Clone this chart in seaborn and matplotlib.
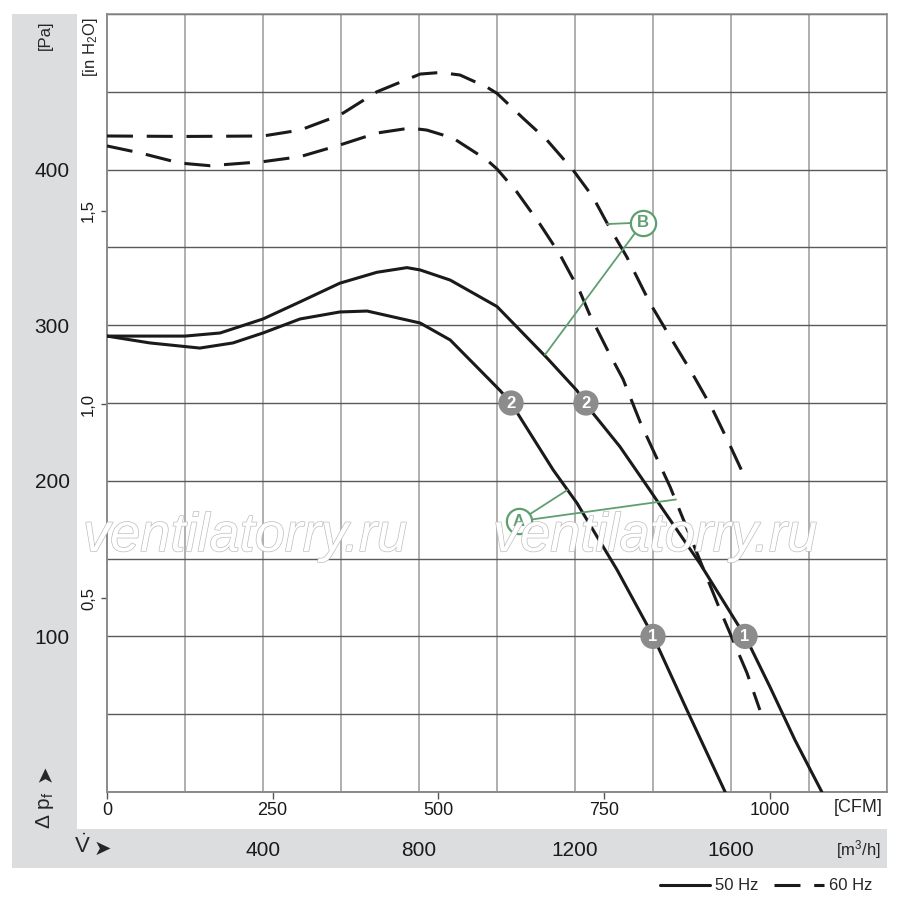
import numpy as np
import pandas as pd
import seaborn as sns
import matplotlib.pyplot as plt
from matplotlib.patches import Rectangle
import matplotlib.patheffects as pe

sns.set_theme(style="white")
plt.rcParams['font.family'] = ['Liberation Sans', 'DejaVu Sans']
plt.rcParams['mathtext.fontset'] = 'custom'
plt.rcParams['mathtext.rm'] = 'Liberation Sans'
plt.rcParams['mathtext.it'] = 'Liberation Sans'

# flow in m3/h, static pressure in Pa
q_50_hi = [0, 200, 290, 400, 495, 597, 692, 769, 803, 880, 1000, 1128, 1205, 1228,
           1315, 1392, 1423, 1520, 1615, 1636, 1700, 1764, 1833]
p_50_hi = [293, 293, 295, 304, 315, 327, 334, 337, 335.5, 329, 312, 279, 258, 249,
           222, 194, 182.5, 147, 108.6, 100.3, 67.5, 33.4, 0]

q_50_lo = [0, 110, 238, 323, 400, 495, 597, 667, 803, 880, 949, 1008, 1036, 1144,
           1205, 1231, 1308, 1400, 1487, 1585]
p_50_lo = [293, 288.6, 285.3, 288.6, 295, 304, 308.5, 309.1, 301.4, 290.5, 273, 258,
           250, 207, 185.7, 174.8, 142.7, 100.3, 52.7, 0]

q_60_hi = [0, 200, 400, 495, 597, 692, 803, 854, 905, 974, 1000, 1067, 1128, 1195,
           1246, 1282, 1333, 1392, 1444, 1500, 1551, 1597, 1641]
p_60_hi = [421.6, 421.3, 421.6, 425.4, 435, 450, 461.4, 462.4, 460.8, 453, 449, 433,
           419, 399.7, 382.4, 365.7, 343.8, 314.3, 292.4, 269.3, 246.8, 223, 199.2]

q_60_lo = [0, 85, 187, 264, 400, 495, 597, 692, 777, 820, 887, 974, 1000, 1051,
           1110, 1162, 1213, 1238, 1282, 1323, 1367, 1400, 1444, 1520, 1572, 1641, 1674]
p_60_lo = [415.2, 410.7, 404.2, 402.5, 405.1, 408.3, 415.8, 423.5, 426.7, 425.4, 420.3,
           406.2, 400.4, 385.6, 365, 345.1, 321.3, 306.6, 284.7, 265.4, 237.8, 219.8,
           196, 149.1, 117, 76.5, 52.7]

# operating points
pt_q = [1036, 1228, 1400, 1636]
pt_p = [250, 250, 100, 100]
pt_lab = ["2", "2", "1", "1"]

# curve annotations A / B
ann_lab = ["A", "B"]
ann_q = [1056, 1374]
ann_p = [174, 366]
ann_tq = [[1180, 1459], [1282, 1123]]
ann_tp = [[194, 188], [365, 281]]

pa_ticks = [100, 200, 300, 400]
inh2o_ticks = [0.5, 1.0, 1.5]
cfm_ticks = [0, 250, 500, 750, 1000]
m3h_ticks = [400, 800, 1200, 1600]

W, H = 900, 910
fig = plt.figure(figsize=(W / 100, H / 100), dpi=100)


def fx(x):
    return x / W


def fy(y):
    return 1 - y / H


# gray bands
band = "#dcdddf"
fig.add_artist(Rectangle((fx(12), fy(868)), fx(77) - fx(12), fy(14) - fy(868),
                         transform=fig.transFigure, color=band, zorder=0, lw=0))
fig.add_artist(Rectangle((fx(12), fy(868)), fx(887) - fx(12), fy(829) - fy(868),
                         transform=fig.transFigure, color=band, zorder=0, lw=0))

ax = fig.add_axes([fx(107), fy(792), fx(887) - fx(107), fy(14) - fy(792)])
ax.set_zorder(2)
ax.patch.set_facecolor("white")

green = "#5f9f6f"
dash = (0, (8.5, 4.5))
series = [
    (q_50_hi, p_50_hi, "-", "50 Hz"),
    (q_50_lo, p_50_lo, "-", None),
    (q_60_hi, p_60_hi, dash, "60 Hz"),
    (q_60_lo, p_60_lo, dash, None),
]
for q, p, ls, lab in series:
    df = pd.DataFrame({"q": q, "p": p})
    kw = {"label": lab} if lab else {}
    sns.lineplot(data=df, x="q", y="p", ax=ax, color="#1a1a1a", lw=2.2,
                 linestyle=ls, sort=False, zorder=3, **kw)

# watermark
for xc in [245, 655]:
    fig.text(fx(xc), fy(537), "ventilatorry.ru", ha="center", va="center",
             fontsize=39, style="italic", color="white", zorder=5,
             path_effects=[pe.withStroke(linewidth=1.0, foreground="#bdbdbd")])

# annotation lines + circles
for lab, q0, p0, tq, tp in zip(ann_lab, ann_q, ann_p, ann_tq, ann_tp):
    for q1, p1 in zip(tq, tp):
        ax.plot([q0, q1], [p0, p1], color=green, lw=1.3, zorder=6)
    ax.scatter([q0], [p0], s=330, facecolor="white", edgecolor=green, lw=1.6, zorder=7)
    ax.text(q0, p0, lab, color=green, ha="center", va="center", fontsize=12,
            fontweight="bold", zorder=8)

sns.scatterplot(x=pt_q, y=pt_p, ax=ax, s=330, color="#8c8c8c", edgecolor="none",
                zorder=7, legend=False)
for q, p, t in zip(pt_q, pt_p, pt_lab):
    ax.text(q, p, t, color="white", ha="center", va="center", fontsize=12,
            fontweight="bold", zorder=8)

ax.set_xlim(0, 2000)
ax.set_ylim(0, 500)
ax.set_xlabel("")
ax.set_ylabel("")

ax.set_xticks(np.arange(0, 2001, 200))
ax.set_xticklabels([str(v) if v in m3h_ticks else "" for v in range(0, 2001, 200)])
ax.set_yticks(np.arange(0, 501, 50))
ax.set_yticklabels([str(v) if v in pa_ticks else "" for v in range(0, 501, 50)])
ax.tick_params(axis="x", length=0, pad=35, labelsize=15, labelcolor="#1a1a1a")
ax.tick_params(axis="y", length=0, pad=27, labelsize=15, labelcolor="#1a1a1a")
ax.grid(True, axis="x", color="#9a9a9a", lw=1.1)
ax.grid(True, axis="y", color="#5a5a5a", lw=1.0)
for s in ax.spines.values():
    s.set_color("#8a8a8a")
    s.set_linewidth(1.1)

sec_x = ax.secondary_xaxis("bottom", functions=(lambda q: q / 1.699, lambda c: c * 1.699))
sec_x.set_xticks(cfm_ticks)
sec_x.set_xticklabels([str(v) for v in cfm_ticks])
sec_x.tick_params(length=5, width=1, color="#555555", pad=2, labelsize=13,
                  labelcolor="#1a1a1a")
sec_x.spines["bottom"].set_color("#8a8a8a")

sec_y = ax.secondary_yaxis("left", functions=(lambda p: p / 249.09, lambda h: h * 249.09))
sec_y.set_yticks(inh2o_ticks)
sec_y.set_yticklabels([f"{v:.1f}".replace(".", ",") for v in inh2o_ticks],
                      rotation=90, va="center")
sec_y.tick_params(length=4, width=1, color="#555555", pad=4, labelsize=12,
                  labelcolor="#1a1a1a")
sec_y.spines["left"].set_color("#8a8a8a")

# unit labels
fig.text(fx(45), fy(35), "[Pa]", rotation=90, ha="center", va="center", fontsize=12)
fig.text(fx(90), fy(47), "[in H$_2$O]", rotation=90, ha="center", va="center", fontsize=12)
fig.text(fx(858), fy(808), "[CFM]", ha="center", va="center", fontsize=13)
fig.text(fx(858), fy(850), "[m$^3$/h]", ha="center", va="center", fontsize=12)
fig.text(fx(45), fy(810), "\u0394 p$_f$", rotation=90, ha="center", va="center",
         fontsize=15)
fig.text(fx(45), fy(773), "\u27a4", rotation=90, ha="center", va="center",
         fontsize=15, family=['DejaVu Sans'])
fig.text(fx(82), fy(846), r"$\dot{\mathrm{V}}$", ha="center", va="center", fontsize=16)
fig.text(fx(102), fy(849), "\u27a4", ha="center", va="center", fontsize=15,
         family=['DejaVu Sans'])

handles, labels = ax.get_legend_handles_labels()
ax.legend(handles, labels, ncol=2, frameon=False, loc="center right",
          bbox_to_anchor=(fx(887), fy(886)), bbox_transform=fig.transFigure,
          fontsize=12, handlelength=3.0, columnspacing=0.9, handletextpad=0.3)

fig.savefig("out.png", dpi=100)
